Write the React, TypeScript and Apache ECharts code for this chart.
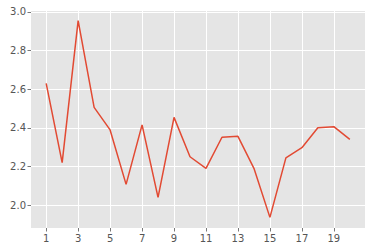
import React, { useEffect, useRef } from "react";
import * as echarts from "echarts";

const xValues = [1, 2, 3, 4, 5, 6, 7, 8, 9, 10, 11, 12, 13, 14, 15, 16, 17, 18, 19, 20];
const yValues = [2.63, 2.22, 2.955, 2.506, 2.389, 2.107, 2.415, 2.04, 2.454, 2.25, 2.19, 2.351, 2.356, 2.19, 1.936, 2.244, 2.297, 2.4, 2.406, 2.34];
const xTicks = [1, 3, 5, 7, 9, 11, 13, 15, 17, 19];
const yTicks = [2.0, 2.2, 2.4, 2.6, 2.8, 3.0];

export default function App() {
  const ref = useRef<HTMLDivElement>(null);
  useEffect(() => {
    if (!ref.current) return;
    const chart = echarts.init(ref.current, undefined, { renderer: "svg" });
    const labelStyle = { color: "#555555", fontSize: 10, fontFamily: "DejaVu Sans" };
    chart.setOption({
      animation: false,
      grid: {
        left: 31,
        right: 10,
        top: 11,
        bottom: 24,
        show: true,
        backgroundColor: "#E5E5E5",
        borderWidth: 0,
      },
      xAxis: {
        type: "value",
        min: 0.05,
        max: 20.95,
        axisLine: { show: false },
        axisTick: { show: true, customValues: xTicks, length: 3.5, lineStyle: { color: "#555555", width: 0.8 } },
        axisLabel: { customValues: xTicks, margin: 5, formatter: (v: number) => String(v), ...labelStyle },
        splitLine: { show: true, lineStyle: { color: "#ffffff", width: 1 } },
      },
      yAxis: {
        type: "value",
        min: 1.881,
        max: 3.005,
        axisLine: { show: false },
        axisTick: { show: true, customValues: yTicks, length: 3.5, lineStyle: { color: "#555555", width: 0.8 } },
        axisLabel: { customValues: yTicks, margin: 5, formatter: (v: number) => v.toFixed(1), ...labelStyle },
        splitLine: { show: true, lineStyle: { color: "#ffffff", width: 1 } },
      },
      series: [
        {
          type: "line",
          data: xValues.map((x, i) => [x, yValues[i]]),
          showSymbol: false,
          lineStyle: { color: "#E24A33", width: 1.5 },
        },
      ],
    });
    return () => chart.dispose();
  }, []);
  return <div ref={ref} style={{ position: "absolute", left: 0, top: 0, width: 375, height: 252 }} />;
}
